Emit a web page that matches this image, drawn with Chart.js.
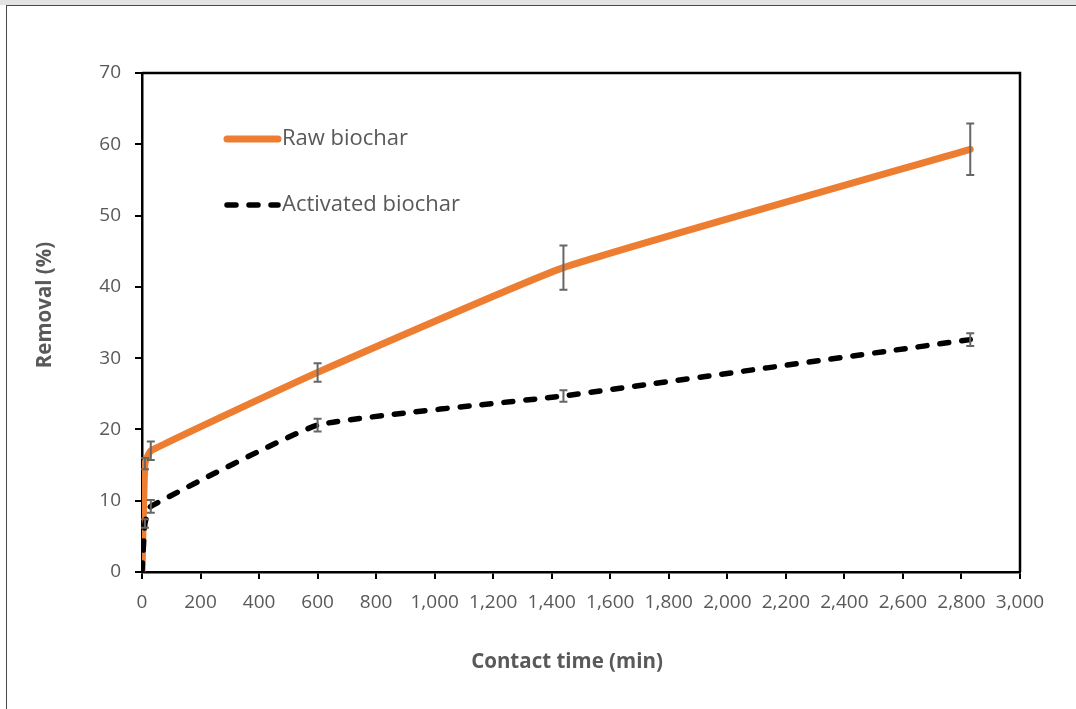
<!DOCTYPE html>
<html>
<head>
<meta charset="utf-8">
<script src="https://cdn.jsdelivr.net/npm/chart.js@4/dist/chart.umd.min.js"></script>
<style>
  html, body { margin: 0; padding: 0; background: #fff; }
  body { width: 1076px; height: 709px; position: relative; overflow: hidden; }
  .strip { position: absolute; left: 0; top: 0; width: 1076px; height: 5px; background: #e3e3e3; }
  .frame { position: absolute; left: 6px; top: 5px; width: 1070px; height: 704px;
           border-left: 1.5px solid #4a4a4a; border-top: 1.5px solid #4a4a4a; box-sizing: border-box; }
  #wrap { position: absolute; left: 0; top: 0; width: 1076px; height: 709px; }
</style>
</head>
<body>
<div class="strip"></div>
<div class="frame"></div>
<div id="wrap"><canvas id="chart" width="1076" height="709"></canvas></div>
<script>
// contact time (min)
const times = [0, 10, 30, 600, 1440, 2830];
// removal (%)
const rawBiochar = [0, 15.2, 17.0, 28.0, 42.7, 59.3];
const rawErr = [0, 0.8, 1.3, 1.3, 3.1, 3.6];
const activatedBiochar = [0, 6.8, 9.2, 20.6, 24.7, 32.6];
const activatedErr = [0, 0.6, 0.9, 0.9, 0.8, 0.9];

const seriesNames = ["Raw biochar", "Activated biochar"];
const xTitle = "Contact time (min)";
const yTitle = "Removal (%)";
const errors = [rawErr, activatedErr];

const tickFont = { family: "'Open Sans', sans-serif", size: 19 };
const grey = "#595959";

function toPoints(ys) {
    return times.map((t, i) => ({ x: t, y: ys[i] }));
}

// error bars drawn through the scales
const errorBars = {
    id: "errorBars",
    afterDatasetsDraw(chart) {
        const ctx = chart.ctx;
        const xs = chart.scales.x, ys = chart.scales.y;
        ctx.save();
        ctx.strokeStyle = "#666666";
        ctx.lineWidth = 2;
        chart.data.datasets.forEach((ds, d) => {
            ds.data.forEach((p, i) => {
                const e = errors[d][i];
                if (!e) return;
                const x = xs.getPixelForValue(p.x);
                const yt = ys.getPixelForValue(p.y + e);
                const yb = ys.getPixelForValue(p.y - e);
                ctx.beginPath();
                ctx.moveTo(x, yt); ctx.lineTo(x, yb);
                ctx.moveTo(x - 4, yt); ctx.lineTo(x + 4, yt);
                ctx.moveTo(x - 4, yb); ctx.lineTo(x + 4, yb);
                ctx.stroke();
            });
        });
        ctx.restore();
    }
};

// box around plot, axis titles, legend inside the plot
const boxAndLegend = {
    id: "boxAndLegend",
    afterDraw(chart) {
        const ctx = chart.ctx;
        const a = chart.chartArea;
        ctx.save();
        ctx.strokeStyle = "#000";
        ctx.lineWidth = 2.5;
        ctx.beginPath();
        ctx.moveTo(a.left, a.top); ctx.lineTo(a.right, a.top); ctx.lineTo(a.right, a.bottom);
        ctx.stroke();

        // axis titles
        ctx.fillStyle = grey;
        ctx.font = "bold 20.5px 'Open Sans', sans-serif";
        ctx.textAlign = "center";
        ctx.textBaseline = "middle";
        ctx.fillText(xTitle, 567, 662);
        ctx.save();
        ctx.translate(45, 305);
        ctx.rotate(-Math.PI / 2);
        ctx.fillText(yTitle, 0, 0);
        ctx.restore();

        // legend
        const rows = [139, 205];
        ctx.textAlign = "left";
        chart.data.datasets.forEach((ds, d) => {
            const y = rows[d];
            ctx.beginPath();
            ctx.strokeStyle = ds.borderColor;
            ctx.lineWidth = ds.borderWidth;
            ctx.lineCap = "round";
            ctx.setLineDash(ds.borderDash || []);
            ctx.moveTo(227, y); ctx.lineTo(278, y);
            ctx.stroke();
            ctx.setLineDash([]);
            ctx.fillStyle = grey;
            ctx.font = "22px 'Open Sans', sans-serif";
            ctx.fillText(ds.label, 282, y);
        });
        ctx.restore();
    }
};

new Chart(document.getElementById("chart"), {
    type: "line",
    data: {
        datasets: [
            {
                label: seriesNames[0],
                data: toPoints(rawBiochar),
                borderColor: "#ED7D31",
                borderWidth: 7,
                pointRadius: 0,
                fill: false,
                tension: 0.12,
                order: 1,
                borderCapStyle: "round",
                borderJoinStyle: "round",
            },
            {
                label: seriesNames[1],
                data: toPoints(activatedBiochar),
                borderColor: "#000000",
                borderWidth: 5.5,
                borderDash: [9, 13],
                borderCapStyle: "round",
                pointRadius: 0,
                fill: false,
                tension: 0.12,
                order: 0,
            },
        ],
    },
    options: {
        responsive: false,
        animation: false,
        devicePixelRatio: 1,
        layout: { padding: { top: 73, right: 56, left: 0, bottom: 0 } },
        plugins: {
            legend: { display: false },
            tooltip: { enabled: false },
        },
        scales: {
            x: {
                type: "linear",
                min: 0,
                max: 3000,
                afterFit(s) { s.height = 137; },
                ticks: { stepSize: 200, color: grey, font: tickFont, padding: 12, maxRotation: 0, autoSkip: false },
                grid: { display: true, drawOnChartArea: false, drawTicks: true, tickLength: 7, color: "#000", lineWidth: 2 },
                border: { display: true, color: "#000", width: 2.5 },
            },
            y: {
                min: 0,
                max: 70,
                afterFit(s) { s.width = 142; },
                ticks: { stepSize: 10, color: grey, font: tickFont, padding: 14 },
                grid: { display: true, drawOnChartArea: false, drawTicks: true, tickLength: 7, color: "#000", lineWidth: 2 },
                border: { display: true, color: "#000", width: 2.5 },
            },
        },
    },
    plugins: [errorBars, boxAndLegend],
});
</script>
</body>
</html>
